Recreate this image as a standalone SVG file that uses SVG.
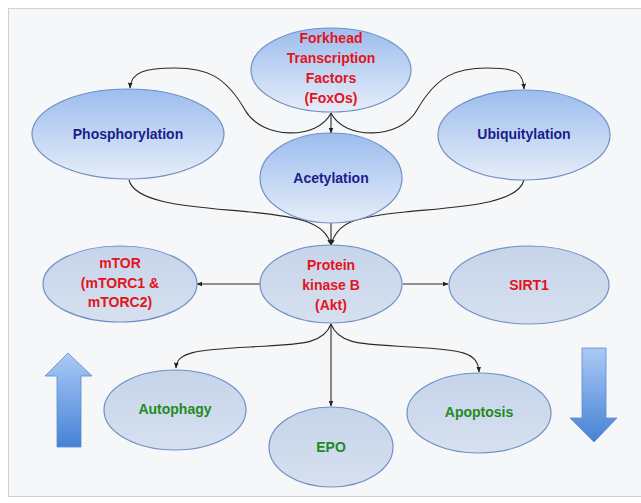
<svg xmlns="http://www.w3.org/2000/svg" width="641" height="503" viewBox="0 0 641 503">
<defs>
<linearGradient id="gTop" x1="0" y1="0" x2="0" y2="1">
<stop offset="0" stop-color="#9cbdee"/>
<stop offset="1" stop-color="#e6edf8"/>
</linearGradient>
<linearGradient id="gLow" x1="0" y1="0" x2="0" y2="1">
<stop offset="0" stop-color="#c6d4ea"/>
<stop offset="1" stop-color="#d6e0ef"/>
</linearGradient>
<linearGradient id="gUp" x1="0" y1="0" x2="0" y2="1">
<stop offset="0" stop-color="#aacaf6"/>
<stop offset="1" stop-color="#4682d4"/>
</linearGradient>
<marker id="ah" viewBox="0 0 10 10" refX="9" refY="5" markerWidth="6" markerHeight="6" orient="auto" markerUnits="userSpaceOnUse">
<path d="M0,1 L10,5 L0,9 z" fill="#222"/>
</marker>
<style>
.top{fill:url(#gTop);stroke:#6f90c6;stroke-width:1.2}
.low{fill:url(#gLow);stroke:#6f90c6;stroke-width:1.2}
text{font-family:"Liberation Sans",Arial,sans-serif;font-weight:bold;font-size:14px;text-anchor:middle}
.red{fill:#e3141c}
.blue{fill:#1b1d8a}
.green{fill:#238a22}
.c{fill:none;stroke:#2a2a2a;stroke-width:1.1;marker-end:url(#ah)}
</style>
</defs>
<rect x="8.5" y="8.5" width="640" height="488" fill="#f6f7f9" stroke="#cfd1d4" stroke-width="1"/>

<g id="connectors">
<path class="c" d="M331,113 C318,140 262,140 245,110 C225,75 205,68 175,68 C145,68 131,72 130,88"/>
<path class="c" d="M331,113 C344,140 400,140 417,110 C437,75 457,68 487,68 C517,68 523,72 524,89"/>
<path class="c" d="M331,113 L331,133"/>
<path class="c" d="M129,180 C135,205 200,207 250,212 C300,217 325,222 331,245"/>
<path class="c" d="M524,180 C518,205 455,207 405,212 C355,217 337,222 331,245"/>
<path class="c" d="M331,223 L331,245"/>
<path class="c" d="M260,284 L197,284"/>
<path class="c" d="M403,284 L448,284"/>
<path class="c" d="M331,324 C323,345 300,344 250,347 C195,350 177,352 176,368"/>
<path class="c" d="M331,324 C339,345 362,344 412,347 C462,350 478,352 479,372"/>
<path class="c" d="M331,324 L331,406"/>
</g>

<g id="foxo">
<ellipse class="top" cx="331" cy="70" rx="80" ry="42"/>
<text class="red" x="331" y="43">Forkhead</text>
<text class="red" x="331" y="63">Transcription</text>
<text class="red" x="331" y="83">Factors</text>
<text class="red" x="331" y="103">(FoxOs)</text>
</g>
<g id="phosphorylation">
<ellipse class="top" cx="128" cy="134" rx="96" ry="45"/>
<text class="blue" x="128" y="139">Phosphorylation</text>
</g>
<g id="ubiquitylation">
<ellipse class="top" cx="524" cy="135" rx="86" ry="45"/>
<text class="blue" x="524" y="139">Ubiquitylation</text>
</g>
<g id="acetylation">
<ellipse class="top" cx="331" cy="178" rx="71" ry="45"/>
<text class="blue" x="331" y="183">Acetylation</text>
</g>
<g id="akt">
<ellipse class="low" cx="331" cy="284" rx="71" ry="39"/>
<text class="red" x="331" y="270">Protein</text>
<text class="red" x="331" y="290">kinase B</text>
<text class="red" x="331" y="310">(Akt)</text>
</g>
<g id="mtor">
<ellipse class="low" cx="120" cy="284" rx="77" ry="38"/>
<text class="red" x="120" y="268">mTOR</text>
<text class="red" x="120" y="288">(mTORC1 &amp;</text>
<text class="red" x="120" y="307">mTORC2)</text>
</g>
<g id="sirt1">
<ellipse class="low" cx="529" cy="285" rx="80" ry="39"/>
<text class="red" x="529" y="290">SIRT1</text>
</g>
<g id="autophagy">
<ellipse class="low" cx="175" cy="410" rx="71" ry="40"/>
<text class="green" x="175" y="414">Autophagy</text>
</g>
<g id="epo">
<ellipse class="low" cx="331" cy="447" rx="62" ry="40"/>
<text class="green" x="331" y="452">EPO</text>
</g>
<g id="apoptosis">
<ellipse class="low" cx="479" cy="413" rx="72" ry="40"/>
<text class="green" x="479" y="417">Apoptosis</text>
</g>

<g id="up-arrow">
<path d="M57,447 L57,376 L45,376 L68,353 L92,376 L81,376 L81,447 Z" fill="url(#gUp)" stroke="#5a8ad0" stroke-width="0.8"/>
</g>
<g id="down-arrow">
<path d="M582,348 L606,348 L606,418 L617,418 L594,442 L570,418 L582,418 Z" fill="url(#gUp)" stroke="#5a8ad0" stroke-width="0.8"/>
</g>
</svg>
